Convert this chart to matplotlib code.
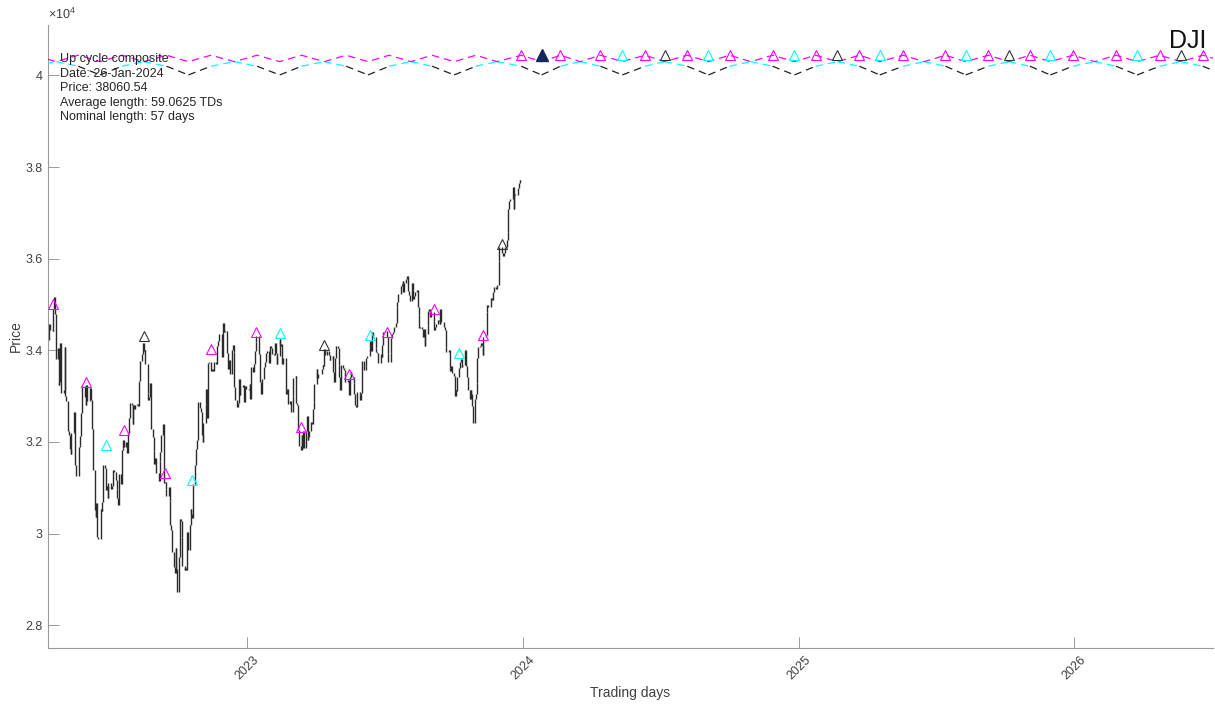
import numpy as np
import pandas as pd
import matplotlib
matplotlib.use("Agg")
import matplotlib.pyplot as plt
from matplotlib.ticker import FuncFormatter

plt.rcParams["font.family"] = ["Liberation Sans", "DejaVu Sans"]
plt.rcParams["mathtext.fontset"] = "custom"
plt.rcParams["mathtext.rm"] = "Liberation Sans"

# DJI daily closes, 12-Apr-2022 .. 30-Dec-2022
close_2022 = [
    34220, 34564, 34451, 34412, 34911, 35160, 34793, 33811, 34049, 33240, 33302, 34160, 33061,
    33062, 33129, 34061, 32998, 32899, 32246, 32161, 31834, 31730, 32197, 32223, 32655, 31490,
    31253, 31262, 31880, 31929, 32120, 32637, 33213, 32990,
    32813, 33248, 32900, 32916, 33180, 32910, 32272, 31393, 30517, 30365, 30669, 29927, 29889,
    30530, 30484, 30677, 31501, 31439, 30947, 31029, 30775,
    31097, 30968, 31037, 31385, 31338, 31174, 30982, 30773, 30630, 31289, 31073, 31827, 31875,
    32037, 31899, 31990, 31762, 32198, 32530, 32845,
    32798, 32397, 32813, 32727, 32803, 32832, 32775, 33310, 33337, 33761, 33913, 34152, 33981,
    33999, 33707, 33064, 32910, 32970, 33292, 32283, 32099, 31791, 31510,
    31656, 31318, 31145, 31581, 31775, 32151, 32381, 31105, 31135, 30962, 30822, 31020, 30706,
    30184, 30077, 29590, 29261, 29135, 29684, 29226, 28726,
    29491, 30317, 30274, 29927, 29297, 29203, 29240, 29211, 30039, 29635, 30186, 30524, 30424,
    30334, 31083, 31500, 31837, 31839, 32034, 32862, 32733,
    32653, 32148, 32001, 32403, 32827, 33160, 32514, 33716, 33748, 33537, 33593, 33553, 33547,
    33746, 33700, 34098, 34195, 34347, 33850, 33853, 34590,
    34395, 34430, 33947, 33597, 33598, 33781, 33476, 34005, 34108, 33966, 33203, 32920, 32757,
    32850, 33377, 33027, 33204, 33241, 32876, 33221, 33147,
]

# DJI daily closes, 03-Jan-2023 .. 29-Dec-2023
close_2023 = [
    33136, 33270, 32930, 33631, 33518, 33704, 33974, 34190, 34303, 33911, 33297, 33045, 33376,
    33630, 33734, 33744, 33949, 33978, 33717, 34086,
    34093, 34054, 33926, 33891, 34156, 33949, 33699, 33869, 34246, 34089, 34128, 33697, 33827,
    33130, 33045, 33154, 32817, 32889, 32657,
    32662, 33004, 33391, 33431, 32856, 32798, 32255, 31910, 31819, 32155, 31875, 32247, 31862,
    32245, 32561, 32031, 32106, 32238, 32432, 32394, 32718, 32860, 33274,
    33601, 33403, 33483, 33486, 33587, 33685, 33647, 34030, 33887, 33988, 33977, 33897, 33787,
    33809, 33876, 33531, 33302, 33827, 34098,
    34051, 33685, 33415, 33128, 33675, 33619, 33562, 33531, 33310, 33301, 33349, 33013, 33421,
    33536, 33427, 33287, 33056, 32800, 32765, 33093, 33043, 32908,
    33062, 33763, 33563, 33573, 33666, 33834, 33877, 34066, 34212, 33979, 34408, 34299, 34054,
    33952, 33946, 33727, 33714, 33927, 33853, 34122, 34408,
    34418, 34288, 33922, 33734, 33945, 34262, 34347, 34395, 34509, 34586, 34952, 35061, 35225,
    35228, 35411, 35438, 35520, 35282, 35459, 35560,
    35630, 35283, 35216, 35066, 35473, 35314, 35124, 35176, 35281, 35308, 34946, 34766, 34475,
    34501, 34464, 34288, 34473, 34099, 34347, 34560, 34853, 34891, 34722,
    34838, 34642, 34443, 34501, 34577, 34664, 34646, 34576, 34908, 34618, 34625, 34518, 34441,
    34071, 33964, 34007, 33619, 33551, 33667, 33508,
    33433, 33002, 33129, 33120, 33408, 33605, 33740, 33804, 33631, 33670, 33985, 33998, 33665,
    33415, 33127, 32937, 33141, 33036, 32785, 32418, 32929, 33053,
    33275, 33839, 34061, 34096, 34153, 34112, 33892, 34283, 34338, 34828, 34992, 34946, 34947,
    35151, 35088, 35273, 35390, 35334, 35417, 35430, 35951,
    36246, 36204, 36125, 36055, 36118, 36248, 36405, 36578, 37090, 37248, 37306, 37306, 37558,
    37083, 37405, 37386, 37546, 37657, 37710, 37690,
]

market_holidays = [
    "2022-04-15", "2022-05-30", "2022-06-20", "2022-07-04", "2022-09-05", "2022-11-24",
    "2022-12-26", "2023-01-02", "2023-01-16", "2023-02-20", "2023-04-07", "2023-05-29",
    "2023-06-19", "2023-07-04", "2023-09-04", "2023-11-23", "2023-12-25",
]

# detected cycle troughs on the price series
magenta_dates = ["2022-04-19", "2022-06-01", "2022-07-22", "2022-09-14", "2022-11-14", "2023-01-12",
                 "2023-03-13", "2023-05-16", "2023-07-05", "2023-09-05", "2023-11-09"]
magenta_prices = [35020, 33310, 32250, 31310, 34020, 34390, 32330, 33490, 34400, 34890, 34330]
cyan_dates = ["2022-06-28", "2022-10-20", "2023-02-13", "2023-06-12", "2023-10-09"]
cyan_prices = [31930, 31160, 34380, 34330, 33930]
black_dates = ["2022-08-17", "2023-04-13", "2023-12-05"]
black_prices = [34305, 34110, 36330]

# projected troughs (top band)
proj_magenta = ["2023-12-30", "2024-02-20", "2024-04-13", "2024-06-11", "2024-08-06", "2024-10-01",
                "2024-11-27", "2025-01-23", "2025-03-22", "2025-05-19", "2025-07-14", "2025-09-09",
                "2025-11-03", "2025-12-30", "2026-02-25", "2026-04-24", "2026-06-20"]
proj_cyan = ["2024-05-12", "2024-09-03", "2024-12-26", "2025-04-18", "2025-08-10", "2025-11-30",
             "2026-03-25"]
proj_black = ["2024-07-07", "2025-02-21", "2025-10-06", "2026-05-22"]
proj_now = "2024-01-26"
proj_level = 40440

# composite cycle lines: vertex dates and vertex kind (m = 57d trough, c/n/b = between)
comp_dates = [
    "2022-02-23", "2022-03-24", "2022-04-23", "2022-05-22", "2022-06-20", "2022-07-19",
    "2022-08-17", "2022-09-16", "2022-10-15", "2022-11-14", "2022-12-15", "2023-01-14",
    "2023-02-13", "2023-03-14", "2023-04-13", "2023-05-12", "2023-06-10", "2023-07-08",
    "2023-08-06", "2023-09-03", "2023-10-02", "2023-10-31", "2023-11-28", "2023-12-30",
    "2024-01-26", "2024-02-20", "2024-03-17", "2024-04-13", "2024-05-12", "2024-06-11",
    "2024-07-07", "2024-08-06", "2024-09-03", "2024-10-01", "2024-10-29", "2024-11-27",
    "2024-12-26", "2025-01-23", "2025-02-21", "2025-03-22", "2025-04-18", "2025-05-19",
    "2025-06-16", "2025-07-14", "2025-08-10", "2025-09-09", "2025-10-06", "2025-11-03",
    "2025-11-30", "2025-12-30", "2026-01-28", "2026-02-25", "2026-03-25", "2026-04-24",
    "2026-05-22", "2026-06-20", "2026-07-19",
]
comp_kind = "cmnmcmbmcmnmcmbmcmnmcmbmcmnmcmbmcmnmcmbmcmnmcmbmcmnmcmbmc"
# levels of the fast (magenta) wave and of the slow wave (cyan upper part, black lower part)
fast_levels = {"m": 40440, "n": 40300, "b": 40300, "c": 40300}
slow_levels = {"m": 40200, "n": 40300, "b": 40300, "c": 40010}

info = ["Up cycle composite", "Date: 26-Jan-2024", "Price: 38060.54",
        "Average length: 59.0625 TDs", "Nominal length: 57 days"]


def split_slow(dates, kinds):
    # slow wave: segments touching a "c" vertex are black, the rest cyan
    parts = {"c": ([], []), "o": ([], [])}
    for i in range(len(kinds) - 1):
        key = "c" if "c" in (kinds[i], kinds[i + 1]) else "o"
        xs, ys = parts[key]
        xs += [dates[i], dates[i + 1], dates[i + 1]]
        ys += [slow_levels[kinds[i]], slow_levels[kinds[i + 1]], np.nan]
    return parts["c"], parts["o"]


def main():
    close = close_2022 + close_2023
    days = pd.bdate_range("2022-04-12", "2023-12-29")
    days = days[~days.isin(pd.to_datetime(market_holidays))]
    assert len(days) == len(close), (len(days), len(close))

    s = pd.Series(close, index=days, dtype=float)
    prev = s.shift(1).fillna(s)
    lo = pd.concat([s, prev], axis=1).min(axis=1)
    hi = pd.concat([s, prev], axis=1).max(axis=1)

    fig = plt.figure(figsize=(12.15, 7.04), dpi=100)
    ax = fig.add_axes([0.0395, 0.0795, 0.9585, 0.885])

    ax.vlines(days, lo, hi, color="#2a2a2a", linewidth=1.0, zorder=2)

    # composite lines at the top
    cd = list(pd.to_datetime(comp_dates))
    (bx, by), (cx, cy) = split_slow(cd, comp_kind)
    ax.plot(bx, by, color="#222222", linewidth=0.9, dashes=(6, 4), zorder=3)
    ax.plot(cx, cy, color="#00ffff", linewidth=0.9, dashes=(6, 4), zorder=3)
    ax.plot(cd, [fast_levels[k] for k in comp_kind], color="#ff00ff", linewidth=0.9,
            dashes=(6, 4), zorder=4)

    tri = dict(marker="^", linestyle="none", markersize=7, markerfacecolor="none",
               markeredgewidth=0.8, zorder=5)
    ax.plot(pd.to_datetime(magenta_dates), magenta_prices, markeredgecolor="#ff00ff", **tri)
    ax.plot(pd.to_datetime(cyan_dates), cyan_prices, markeredgecolor="#00ffff", **tri)
    ax.plot(pd.to_datetime(black_dates), black_prices, markeredgecolor="#333333", **tri)

    ax.plot(pd.to_datetime(proj_magenta), [proj_level] * len(proj_magenta),
            markeredgecolor="#ff00ff", **tri)
    ax.plot(pd.to_datetime(proj_cyan), [proj_level] * len(proj_cyan),
            markeredgecolor="#00ffff", **tri)
    ax.plot(pd.to_datetime(proj_black), [proj_level] * len(proj_black),
            markeredgecolor="#333333", **tri)
    ax.plot([pd.Timestamp(proj_now)], [proj_level], marker="^", linestyle="none",
            markersize=9, color="#14285a", zorder=6)

    ax.set_xlim(pd.Timestamp("2022-04-12"), pd.Timestamp("2026-07-03"))
    ax.set_ylim(27500, 41100)

    years = ["2023", "2024", "2025", "2026"]
    ax.set_xticks(pd.to_datetime([y + "-01-01" for y in years]))
    ax.set_xticklabels(years, rotation=45, ha="center")
    ax.set_yticks([28000, 30000, 32000, 34000, 36000, 38000, 40000])
    ax.yaxis.set_major_formatter(FuncFormatter(lambda v, p: f"{v / 1e4:g}"))

    for side in ["top", "right"]:
        ax.spines[side].set_visible(False)
    for side in ["left", "bottom"]:
        ax.spines[side].set_color("#9a9a9a")
        ax.spines[side].set_linewidth(0.8)
    ax.tick_params(direction="in", length=8, width=0.7, color="#9a9a9a",
                   labelsize=9, labelcolor="#404040", pad=4)

    ax.set_xlabel("Trading days", fontsize=10, color="#404040", labelpad=3)
    ax.set_ylabel("Price", fontsize=10, color="#404040", labelpad=1.5)

    ax.text(0.0, 1.004, r"$\times10^{4}$", transform=ax.transAxes, ha="left", va="bottom",
            fontsize=9, color="#404040")
    ax.text(0.9945, 0.993, "DJI", transform=ax.transAxes, ha="right", va="top",
            fontsize=18, color="#111111")
    ax.text(0.0105, 0.955, "\n".join(info), transform=ax.transAxes, ha="left", va="top",
            fontsize=9, color="#262626", linespacing=1.28, zorder=7)

    fig.savefig("out.png", dpi=100)
    plt.close(fig)


if __name__ == "__main__":
    main()
